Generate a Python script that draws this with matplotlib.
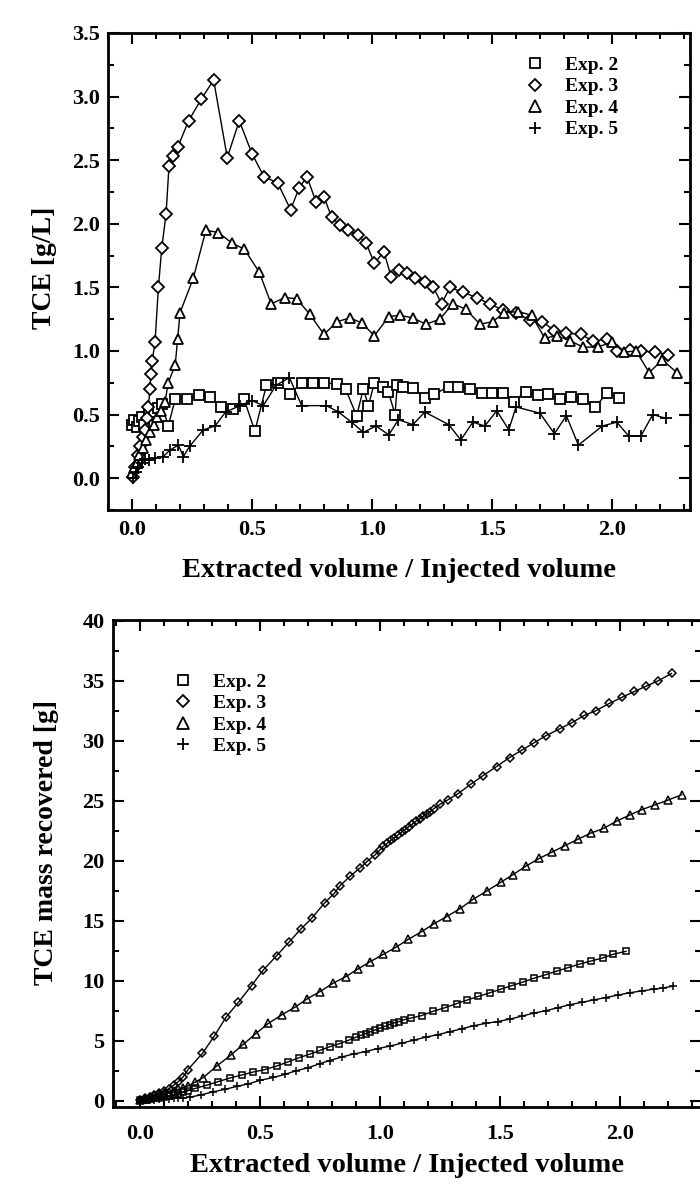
import matplotlib
matplotlib.use("Agg")
import matplotlib.pyplot as plt
from matplotlib.lines import Line2D
from matplotlib.ticker import MultipleLocator, FormatStrFormatter

plt.rcParams['font.family'] = ['Liberation Serif', 'DejaVu Serif']
plt.rcParams['font.weight'] = 'bold'
plt.rcParams['axes.labelweight'] = 'bold'

# ---------------- TCE concentration in the extracted fluid ----------------
conc_x_exp2 = [0.00, 0.01, 0.02, 0.03, 0.04, 0.05, 0.07, 0.09, 0.11, 0.124,
               0.151, 0.18, 0.23, 0.28, 0.325, 0.37, 0.42, 0.467, 0.512, 0.56,
               0.61, 0.658, 0.707, 0.755, 0.80, 0.853, 0.89, 0.936, 0.964, 0.985,
               1.01, 1.047, 1.068, 1.096, 1.105, 1.13, 1.17, 1.22, 1.26, 1.32,
               1.36, 1.41, 1.457, 1.50, 1.545, 1.59, 1.64, 1.69, 1.735, 1.783,
               1.83, 1.88, 1.93, 1.98, 2.03]
conc_y_exp2 = [0.42, 0.46, 0.40, 0.45, 0.48, 0.42, 0.50, 0.52, 0.55, 0.58,
               0.41, 0.62, 0.62, 0.65, 0.64, 0.56, 0.54, 0.62, 0.37, 0.73,
               0.75, 0.66, 0.75, 0.75, 0.75, 0.74, 0.70, 0.49, 0.70, 0.57,
               0.75, 0.72, 0.68, 0.50, 0.73, 0.72, 0.71, 0.63, 0.66, 0.72,
               0.72, 0.70, 0.67, 0.67, 0.67, 0.60, 0.68, 0.65, 0.66, 0.62,
               0.64, 0.62, 0.56, 0.67, 0.63]

conc_x_exp3 = [0.005, 0.0125, 0.026, 0.033, 0.045, 0.054, 0.062, 0.068, 0.075, 0.078,
               0.084, 0.096, 0.11, 0.124, 0.142, 0.154, 0.17, 0.19, 0.236, 0.289,
               0.34, 0.397, 0.447, 0.50, 0.55, 0.607, 0.661, 0.696, 0.729, 0.767,
               0.80, 0.832, 0.867, 0.90, 0.94, 0.975, 1.01, 1.05, 1.08, 1.114,
               1.147, 1.18, 1.22, 1.256, 1.29, 1.325, 1.38, 1.436, 1.49, 1.547,
               1.60, 1.66, 1.71, 1.76, 1.81, 1.87, 1.92, 1.98, 2.02, 2.075,
               2.12, 2.18, 2.235]
conc_y_exp3 = [0.01, 0.09, 0.18, 0.25, 0.32, 0.38, 0.47, 0.56, 0.70, 0.82,
               0.92, 1.07, 1.50, 1.81, 2.08, 2.45, 2.53, 2.60, 2.81, 2.98,
               3.13, 2.52, 2.81, 2.55, 2.37, 2.32, 2.11, 2.28, 2.37, 2.17,
               2.21, 2.05, 1.99, 1.95, 1.91, 1.85, 1.69, 1.78, 1.58, 1.64,
               1.61, 1.57, 1.54, 1.50, 1.37, 1.50, 1.46, 1.42, 1.37, 1.32,
               1.30, 1.24, 1.23, 1.16, 1.14, 1.13, 1.08, 1.09, 1.00, 1.01,
               1.00, 0.99, 0.97]

conc_x_exp4 = [0.00, 0.01, 0.02, 0.03, 0.045, 0.06, 0.075, 0.09, 0.105, 0.12,
               0.1375, 0.151, 0.18, 0.19, 0.20, 0.255, 0.308, 0.36, 0.415, 0.468,
               0.53, 0.58, 0.637, 0.686, 0.74, 0.80, 0.855, 0.908, 0.957, 1.01,
               1.07, 1.117, 1.17, 1.225, 1.283, 1.336, 1.39, 1.45, 1.503, 1.55,
               1.61, 1.665, 1.72, 1.77, 1.825, 1.88, 1.94, 2.00, 2.05, 2.10,
               2.155, 2.21, 2.27]
conc_y_exp4 = [0.04, 0.08, 0.12, 0.18, 0.24, 0.30, 0.36, 0.42, 0.48, 0.53,
               0.60, 0.75, 0.89, 1.09, 1.30, 1.57, 1.95, 1.93, 1.85, 1.80,
               1.62, 1.37, 1.42, 1.41, 1.29, 1.13, 1.23, 1.26, 1.22, 1.12,
               1.27, 1.28, 1.26, 1.21, 1.25, 1.37, 1.33, 1.21, 1.23, 1.30,
               1.31, 1.28, 1.10, 1.12, 1.08, 1.03, 1.03, 1.07, 0.99, 1.00,
               0.83, 0.93, 0.83]

conc_x_exp5 = [0.005, 0.015, 0.026, 0.04, 0.054, 0.07, 0.096, 0.13, 0.158, 0.193,
               0.214, 0.24, 0.297, 0.346, 0.39, 0.45, 0.50, 0.547, 0.60, 0.656,
               0.707, 0.81, 0.86, 0.915, 0.964, 1.017, 1.07, 1.11, 1.17, 1.22,
               1.32, 1.37, 1.42, 1.47, 1.52, 1.57, 1.60, 1.70, 1.76, 1.81,
               1.86, 1.96, 2.02, 2.07, 2.12, 2.17, 2.225]
conc_y_exp5 = [0.00, 0.05, 0.09, 0.12, 0.15, 0.14, 0.16, 0.17, 0.22, 0.26,
               0.17, 0.25, 0.38, 0.41, 0.52, 0.57, 0.61, 0.57, 0.73, 0.79,
               0.57, 0.57, 0.52, 0.44, 0.36, 0.41, 0.34, 0.46, 0.42, 0.52,
               0.42, 0.30, 0.44, 0.41, 0.53, 0.38, 0.56, 0.51, 0.35, 0.49,
               0.26, 0.41, 0.44, 0.33, 0.33, 0.50, 0.47]

# ---------------- cumulative TCE mass recovered ----------------
mass_x_exp2 = [0.00, 0.02, 0.04, 0.06, 0.08, 0.10, 0.12, 0.14, 0.16, 0.18,
               0.20, 0.23, 0.278, 0.326, 0.375, 0.424, 0.472, 0.52, 0.57, 0.618,
               0.664, 0.71, 0.75, 0.79, 0.83, 0.87, 0.90, 0.92, 0.94, 0.96,
               0.98, 1.00, 1.02, 1.04, 1.06, 1.08, 1.10, 1.13, 1.174, 1.22,
               1.27, 1.32, 1.364, 1.41, 1.458, 1.503, 1.55, 1.597, 1.64, 1.69,
               1.736, 1.785, 1.833, 1.88, 1.928, 1.97, 2.025]
mass_y_exp2 = [0.05, 0.10, 0.15, 0.20, 0.25, 0.30, 0.40, 0.50, 0.60, 0.70,
               0.85, 1.03, 1.30, 1.60, 1.90, 2.15, 2.40, 2.60, 2.90, 3.25,
               3.60, 3.90, 4.20, 4.50, 4.75, 5.05, 5.30, 5.45, 5.60, 5.75,
               5.90, 6.05, 6.20, 6.35, 6.50, 6.60, 6.75, 6.90, 7.10, 7.45,
               7.75, 8.10, 8.40, 8.70, 9.00, 9.30, 9.60, 9.90, 10.20, 10.50,
               10.80, 11.10, 11.40, 11.65, 11.90, 12.20, 12.45]

mass_x_exp3 = [0.00, 0.02, 0.04, 0.06, 0.08, 0.10, 0.12, 0.14, 0.16, 0.18,
               0.20, 0.26, 0.31, 0.358, 0.41, 0.465, 0.514, 0.57, 0.62, 0.67,
               0.715, 0.77, 0.81, 0.833, 0.875, 0.917, 0.944, 0.98, 1.00, 1.014,
               1.03, 1.045, 1.06, 1.075, 1.09, 1.105, 1.12, 1.135, 1.15, 1.165,
               1.18, 1.195, 1.21, 1.225, 1.25, 1.285, 1.326, 1.38, 1.43, 1.486,
               1.54, 1.59, 1.64, 1.69, 1.75, 1.80, 1.85, 1.90, 1.955, 2.007,
               2.06, 2.11, 2.16, 2.215]
mass_y_exp3 = [0.10, 0.20, 0.35, 0.50, 0.65, 0.80, 1.00, 1.30, 1.60, 2.00,
               2.60, 3.95, 5.40, 6.95, 8.20, 9.60, 10.90, 12.10, 13.20, 14.30,
               15.20, 16.50, 17.30, 17.90, 18.70, 19.40, 19.90, 20.50, 20.90, 21.20,
               21.45, 21.70, 21.90, 22.15, 22.40, 22.60, 22.85, 23.05, 23.30, 23.50,
               23.70, 23.90, 24.10, 24.35, 24.70, 25.10, 25.60, 26.40, 27.10, 27.85,
               28.60, 29.20, 29.80, 30.40, 31.00, 31.50, 32.10, 32.50, 33.10, 33.60,
               34.10, 34.55, 35.00, 35.60]

mass_x_exp4 = [0.00, 0.02, 0.04, 0.06, 0.08, 0.10, 0.12, 0.14, 0.16, 0.18,
               0.20, 0.23, 0.264, 0.32, 0.378, 0.43, 0.483, 0.535, 0.59, 0.646,
               0.697, 0.75, 0.805, 0.858, 0.91, 0.96, 1.014, 1.067, 1.118, 1.174,
               1.225, 1.278, 1.333, 1.389, 1.447, 1.503, 1.555, 1.608, 1.664, 1.715,
               1.77, 1.826, 1.878, 1.933, 1.986, 2.04, 2.09, 2.145, 2.20, 2.257]
mass_y_exp4 = [0.05, 0.15, 0.30, 0.45, 0.55, 0.65, 0.75, 0.85, 0.95, 1.10,
               1.25, 1.55, 1.94, 2.90, 3.80, 4.70, 5.60, 6.45, 7.15, 7.80,
               8.50, 9.10, 9.80, 10.35, 11.00, 11.60, 12.20, 12.80, 13.45, 14.10,
               14.75, 15.35, 16.00, 16.80, 17.50, 18.20, 18.85, 19.55, 20.20, 20.70,
               21.25, 21.80, 22.30, 22.70, 23.30, 23.80, 24.25, 24.65, 25.05, 25.50]

mass_x_exp5 = [0.00, 0.02, 0.04, 0.06, 0.08, 0.10, 0.12, 0.14, 0.16, 0.18,
               0.208, 0.256, 0.305, 0.354, 0.403, 0.45, 0.50, 0.556, 0.604, 0.65,
               0.70, 0.75, 0.79, 0.84, 0.89, 0.94, 0.99, 1.04, 1.09, 1.14,
               1.19, 1.24, 1.29, 1.34, 1.39, 1.44, 1.49, 1.54, 1.59, 1.64,
               1.69, 1.74, 1.79, 1.84, 1.89, 1.94, 1.99, 2.04, 2.09, 2.14,
               2.18, 2.22]
mass_y_exp5 = [0.00, 0.05, 0.08, 0.10, 0.12, 0.15, 0.18, 0.20, 0.22, 0.25,
               0.30, 0.50, 0.75, 0.95, 1.20, 1.40, 1.70, 1.95, 2.20, 2.50,
               2.75, 3.10, 3.35, 3.65, 3.90, 4.10, 4.35, 4.55, 4.80, 5.05,
               5.30, 5.50, 5.75, 6.00, 6.25, 6.45, 6.60, 6.80, 7.05, 7.30,
               7.50, 7.75, 8.00, 8.20, 8.40, 8.60, 8.80, 9.00, 9.15, 9.30,
               9.40, 9.55]

labels = ['Exp. 2', 'Exp. 3', 'Exp. 4', 'Exp. 5']
markers = ['s', 'D', '^', '+']
x_ticks = [0.0, 0.5, 1.0, 1.5, 2.0]
x_label = 'Extracted volume / Injected volume'

conc_series = [(conc_x_exp2, conc_y_exp2), (conc_x_exp3, conc_y_exp3),
               (conc_x_exp4, conc_y_exp4), (conc_x_exp5, conc_y_exp5)]
mass_series = [(mass_x_exp2, mass_y_exp2), (mass_x_exp3, mass_y_exp3),
               (mass_x_exp4, mass_y_exp4), (mass_x_exp5, mass_y_exp5)]

top_ms = {'s': 7.0, 'D': 6.0, '^': 7.8, '+': 8.5}
bot_ms = {'s': 4.8, 'D': 4.2, '^': 5.4, '+': 6.2}
leg_ms = {'s': 7.5, 'D': 6.2, '^': 8.0, '+': 9.0}

fig = plt.figure(figsize=(7.0, 11.84), dpi=100)
ax1 = fig.add_axes([0.1543, 0.5693, 0.8314, 0.4029])
ax2 = fig.add_axes([0.1614, 0.0650, 0.8400, 0.4113])


def frame(ax, label_pad):
    for sp in ax.spines.values():
        sp.set_linewidth(2.0)
    ax.tick_params(which='both', direction='in', top=True, right=True,
                   width=1.5, colors='black')
    ax.tick_params(which='major', length=8, labelsize=16)
    ax.tick_params(which='minor', length=4.5)
    ax.tick_params(axis='x', which='major', pad=label_pad)
    ax.tick_params(axis='y', which='major', pad=6)
    ax.xaxis.set_major_locator(MultipleLocator(0.5))
    ax.xaxis.set_minor_locator(MultipleLocator(0.1))
    ax.set_xticks(x_ticks)
    ax.xaxis.set_major_formatter(FormatStrFormatter('%.1f'))


for (xs, ys), mk in zip(conc_series, markers):
    ax1.plot(xs, ys, color='black', lw=1.0, marker=mk, ms=top_ms[mk],
             mfc='white', mec='black', mew=1.3)
ax1.set_xlim(-0.1, 2.325)
ax1.set_ylim(-0.25, 3.5)
frame(ax1, 7)
ax1.yaxis.set_major_locator(MultipleLocator(0.5))
ax1.yaxis.set_minor_locator(MultipleLocator(0.25))
ax1.yaxis.set_major_formatter(FormatStrFormatter('%.1f'))
ax1.set_xlabel(x_label, fontsize=20.5, labelpad=13)
ax1.set_ylabel('TCE [g/L]', fontsize=20)
ax1.yaxis.set_label_coords(-0.088, 0.507)

for (xs, ys), mk in zip(mass_series, markers):
    ax2.plot(xs, ys, color='black', lw=1.0, marker=mk, ms=bot_ms[mk],
             mfc='none', mec='black', mew=1.1)
ax2.set_xlim(-0.1125, 2.3375)
ax2.set_ylim(-0.52, 40.05)
frame(ax2, 12)
ax2.yaxis.set_major_locator(MultipleLocator(5))
ax2.yaxis.set_minor_locator(MultipleLocator(2.5))
ax2.yaxis.set_major_formatter(FormatStrFormatter('%d'))
ax2.set_xlabel(x_label, fontsize=20.5, labelpad=7)
ax2.set_ylabel('TCE mass recovered [g]', fontsize=20)
ax2.yaxis.set_label_coords(-0.092, 0.544)


def legend_handles():
    return [Line2D([], [], ls='none', marker=mk, ms=leg_ms[mk], mfc='white',
                   mec='black', mew=1.3, color='black') for mk in markers]


for ax, anchor in ((ax1, (0.7165, 0.951)), (ax2, (0.102, 0.891))):
    ax.legend(legend_handles(), labels, loc='upper left', bbox_to_anchor=anchor,
              frameon=False, fontsize=14, handlelength=1.0, handletextpad=1.06,
              labelspacing=0.2, borderpad=0.0, borderaxespad=0.0)

fig.savefig('out.png', dpi=100)
